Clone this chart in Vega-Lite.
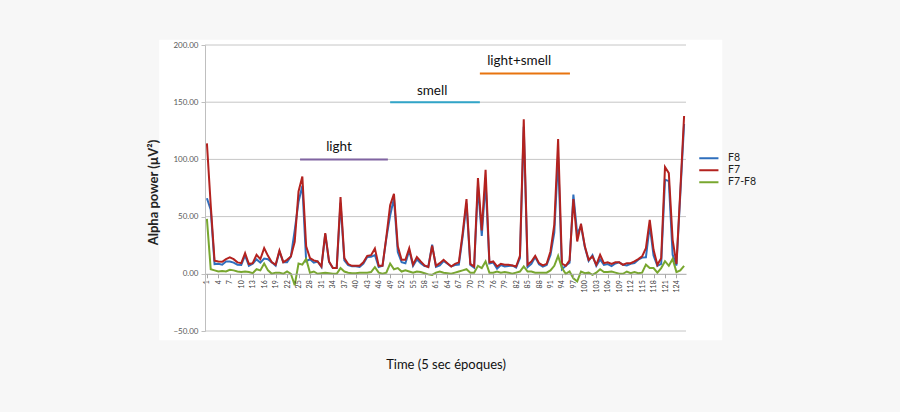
{
  "$schema": "https://vega.github.io/schema/vega-lite/v6.json",
  "width": 481,
  "height": 286,
  "autosize": {"type": "none"},
  "padding": {"left": 205, "top": 45, "right": 214, "bottom": 81},
  "background": "#f7f7f7",
  "config": {"font": "Lato", "view": {"stroke": null}},
  "datasets": {
    "eeg": [
      {"t":1,"F7":114,"F8":66,"F7-F8":48},
      {"t":2,"F7":60,"F8":56,"F7-F8":4},
      {"t":3,"F7":11.5,"F8":8.5,"F7-F8":3},
      {"t":4,"F7":10.8,"F8":8.8,"F7-F8":2},
      {"t":5,"F7":10.5,"F8":8,"F7-F8":2.5},
      {"t":6,"F7":12.8,"F8":10.8,"F7-F8":2},
      {"t":7,"F7":14.3,"F8":10.8,"F7-F8":3.5},
      {"t":8,"F7":12.8,"F8":9.8,"F7-F8":3},
      {"t":9,"F7":10,"F8":8,"F7-F8":2},
      {"t":10,"F7":9.3,"F8":7.8,"F7-F8":1.5},
      {"t":11,"F7":18,"F8":16,"F7-F8":2},
      {"t":12,"F7":8.5,"F8":7,"F7-F8":1.5},
      {"t":13,"F7":9.3,"F8":8.8,"F7-F8":0.5},
      {"t":14,"F7":16.6,"F8":12.6,"F7-F8":4},
      {"t":15,"F7":12.8,"F8":9.8,"F7-F8":3},
      {"t":16,"F7":22.4,"F8":13.4,"F7-F8":9},
      {"t":17,"F7":15.7,"F8":12.7,"F7-F8":3},
      {"t":18,"F7":10,"F8":10,"F7-F8":0},
      {"t":19,"F7":8,"F8":7,"F7-F8":1},
      {"t":20,"F7":20.4,"F8":19.4,"F7-F8":1},
      {"t":21,"F7":10.2,"F8":10.2,"F7-F8":0},
      {"t":22,"F7":12.2,"F8":10.2,"F7-F8":2},
      {"t":23,"F7":15.2,"F8":15.2,"F7-F8":0},
      {"t":24,"F7":28,"F8":38,"F7-F8":-10},
      {"t":25,"F7":72,"F8":63,"F7-F8":9},
      {"t":26,"F7":85,"F8":77,"F7-F8":8},
      {"t":27,"F7":24,"F8":11,"F7-F8":13},
      {"t":28,"F7":13.7,"F8":12.7,"F7-F8":1},
      {"t":29,"F7":11.7,"F8":9.7,"F7-F8":2},
      {"t":30,"F7":10.8,"F8":10.8,"F7-F8":0},
      {"t":31,"F7":6.4,"F8":5.9,"F7-F8":0.5},
      {"t":32,"F7":35.6,"F8":34.6,"F7-F8":1},
      {"t":33,"F7":10.8,"F8":10.3,"F7-F8":0.5},
      {"t":34,"F7":5,"F8":5,"F7-F8":0},
      {"t":35,"F7":5,"F8":5,"F7-F8":0},
      {"t":36,"F7":67,"F8":62,"F7-F8":5},
      {"t":37,"F7":13.7,"F8":11.7,"F7-F8":2},
      {"t":38,"F7":8.5,"F8":7.5,"F7-F8":1},
      {"t":39,"F7":7,"F8":6.5,"F7-F8":0.5},
      {"t":40,"F7":7,"F8":6.5,"F7-F8":0.5},
      {"t":41,"F7":7,"F8":6,"F7-F8":1},
      {"t":42,"F7":10,"F8":9,"F7-F8":1},
      {"t":43,"F7":15.7,"F8":14.7,"F7-F8":1},
      {"t":44,"F7":16.3,"F8":14.8,"F7-F8":1.5},
      {"t":45,"F7":22.2,"F8":16.4,"F7-F8":5.8},
      {"t":46,"F7":7,"F8":6,"F7-F8":1},
      {"t":47,"F7":7,"F8":7,"F7-F8":0},
      {"t":48,"F7":32,"F8":31,"F7-F8":1},
      {"t":49,"F7":60,"F8":51,"F7-F8":9},
      {"t":50,"F7":70,"F8":66,"F7-F8":4},
      {"t":51,"F7":24,"F8":19,"F7-F8":5},
      {"t":52,"F7":12.2,"F8":10.2,"F7-F8":2},
      {"t":53,"F7":12.2,"F8":9.2,"F7-F8":3},
      {"t":54,"F7":22.4,"F8":20.4,"F7-F8":2},
      {"t":55,"F7":8,"F8":7,"F7-F8":1},
      {"t":56,"F7":14.6,"F8":12.6,"F7-F8":2},
      {"t":57,"F7":10.8,"F8":9.3,"F7-F8":1.5},
      {"t":58,"F7":7.3,"F8":6.8,"F7-F8":0.5},
      {"t":59,"F7":5.8,"F8":6.3,"F7-F8":-0.5},
      {"t":60,"F7":24.5,"F8":25.5,"F7-F8":-1},
      {"t":61,"F7":7,"F8":6,"F7-F8":1},
      {"t":62,"F7":9.3,"F8":7.3,"F7-F8":2},
      {"t":63,"F7":12.2,"F8":11.2,"F7-F8":1},
      {"t":64,"F7":9.3,"F8":8.8,"F7-F8":0.5},
      {"t":65,"F7":6.4,"F8":6.4,"F7-F8":0},
      {"t":66,"F7":8.7,"F8":7.7,"F7-F8":1},
      {"t":67,"F7":10,"F8":8,"F7-F8":2},
      {"t":68,"F7":35.6,"F8":32.6,"F7-F8":3},
      {"t":69,"F7":65.3,"F8":61.3,"F7-F8":4},
      {"t":70,"F7":8.7,"F8":7.7,"F7-F8":1},
      {"t":71,"F7":6.4,"F8":5.4,"F7-F8":1},
      {"t":72,"F7":83.7,"F8":76.7,"F7-F8":7},
      {"t":73,"F7":38,"F8":33,"F7-F8":5},
      {"t":74,"F7":91,"F8":80.2,"F7-F8":10.8},
      {"t":75,"F7":10,"F8":9,"F7-F8":1},
      {"t":76,"F7":10.8,"F8":9.8,"F7-F8":1},
      {"t":77,"F7":6.4,"F8":4.4,"F7-F8":2},
      {"t":78,"F7":8.7,"F8":7.7,"F7-F8":1},
      {"t":79,"F7":7.9,"F8":6.4,"F7-F8":1.5},
      {"t":80,"F7":7.9,"F8":6.9,"F7-F8":1},
      {"t":81,"F7":7.3,"F8":7.3,"F7-F8":0},
      {"t":82,"F7":6.4,"F8":5.4,"F7-F8":1},
      {"t":83,"F7":15.7,"F8":13.7,"F7-F8":2},
      {"t":84,"F7":135,"F8":128.6,"F7-F8":6.4},
      {"t":85,"F7":7.9,"F8":5.9,"F7-F8":2},
      {"t":86,"F7":10.8,"F8":8.8,"F7-F8":2},
      {"t":87,"F7":15.7,"F8":14.7,"F7-F8":1},
      {"t":88,"F7":9.3,"F8":8.3,"F7-F8":1},
      {"t":89,"F7":7.3,"F8":6.3,"F7-F8":1},
      {"t":90,"F7":8.7,"F8":7.7,"F7-F8":1},
      {"t":91,"F7":19.5,"F8":16.5,"F7-F8":3},
      {"t":92,"F7":42.9,"F8":35.9,"F7-F8":7},
      {"t":93,"F7":117.8,"F8":102.1,"F7-F8":15.7},
      {"t":94,"F7":9,"F8":4,"F7-F8":5},
      {"t":95,"F7":7,"F8":7,"F7-F8":0},
      {"t":96,"F7":11.7,"F8":9.7,"F7-F8":2},
      {"t":97,"F7":65.3,"F8":69.3,"F7-F8":-4},
      {"t":98,"F7":28.3,"F8":35,"F7-F8":-6.7},
      {"t":99,"F7":43.7,"F8":41.7,"F7-F8":2},
      {"t":100,"F7":24,"F8":23.5,"F7-F8":0.5},
      {"t":101,"F7":12.2,"F8":11.2,"F7-F8":1},
      {"t":102,"F7":15.2,"F8":16.2,"F7-F8":-1},
      {"t":103,"F7":7.9,"F8":6.9,"F7-F8":1},
      {"t":104,"F7":16.6,"F8":12.6,"F7-F8":4},
      {"t":105,"F7":9.3,"F8":7.8,"F7-F8":1.5},
      {"t":106,"F7":10,"F8":8.5,"F7-F8":1.5},
      {"t":107,"F7":8.7,"F8":6.7,"F7-F8":2},
      {"t":108,"F7":10,"F8":9,"F7-F8":1},
      {"t":109,"F7":10,"F8":10,"F7-F8":0},
      {"t":110,"F7":7.9,"F8":7.9,"F7-F8":0},
      {"t":111,"F7":9.3,"F8":7.3,"F7-F8":2},
      {"t":112,"F7":9.3,"F8":8.8,"F7-F8":0.5},
      {"t":113,"F7":10.8,"F8":9.3,"F7-F8":1.5},
      {"t":114,"F7":12.8,"F8":12.3,"F7-F8":0.5},
      {"t":115,"F7":15.2,"F8":14.2,"F7-F8":1},
      {"t":116,"F7":22.4,"F8":14.4,"F7-F8":8},
      {"t":117,"F7":47.2,"F8":42.2,"F7-F8":5},
      {"t":118,"F7":21,"F8":16,"F7-F8":5},
      {"t":119,"F7":7.9,"F8":6.9,"F7-F8":1},
      {"t":120,"F7":13.7,"F8":8.7,"F7-F8":5},
      {"t":121,"F7":93.3,"F8":82.3,"F7-F8":11},
      {"t":122,"F7":88,"F8":81,"F7-F8":7},
      {"t":123,"F7":29.7,"F8":16.7,"F7-F8":13},
      {"t":124,"F7":8.7,"F8":7.2,"F7-F8":1.5},
      {"t":125,"F7":72,"F8":69,"F7-F8":3},
      {"t":126,"F7":138,"F8":131,"F7-F8":7}
    ],
    "ann": [
      {"label":"light","start":25.4,"end":48.4,"level":100,"mid":35.6,"texty":111},
      {"label":"smell","start":49,"end":72.5,"level":150,"mid":60,"texty":160},
      {"label":"light+smell","start":72.5,"end":96.1,"level":175,"mid":82.8,"texty":186}
    ],
    "grid": [{"g": -50}, {"g": 50}, {"g": 100}, {"g": 150}, {"g": 200}]
  },
  "resolve": {"scale": {"color": "independent"}},
  "layer": [
    {
      "data": {"values": [{}]},
      "mark": {"type": "rect", "color": "white", "clip": false},
      "encoding": {
        "x": {
          "datum": -11.5, "type": "quantitative", "scale": {"domain": [0.5, 126.5], "nice": false, "zero": false},
          "axis": {
            "orient": "bottom", "offset": -57.2, "grid": false, "zindex": 1, "labelOverlap": false, "tickCount": 60,
            "values": [1,4,7,10,13,16,19,22,25,28,31,34,37,40,43,46,49,52,55,58,61,64,67,70,73,76,79,82,85,88,91,94,97,100,103,106,109,112,115,118,121,124],
            "labelAngle": -90, "labelFontSize": 7, "labelColor": "#404040", "labelPadding": 2,
            "domainColor": "#a6a6a6", "tickColor": "#a6a6a6", "tickSize": 4,
            "title": "Time (5 sec époques)", "titleFontSize": 13, "titleFontWeight": "normal",
            "titleColor": "#111111", "titleY": 91, "titleBaseline": "middle"
          }
        },
        "x2": {"datum": 136},
        "y": {
          "datum": 204.5, "type": "quantitative", "scale": {"domain": [-50, 200], "nice": false},
          "axis": {
            "values": [-50, 0, 50, 100, 150, 200], "format": ".2f", "grid": false, "zindex": 1, "tickCount": 10,
            "labelFontSize": 8, "labelColor": "#595959", "labelPadding": 3,
            "tickColor": "#bfbfbf", "tickSize": 4, "domainColor": "#bfbfbf",
            "title": "Alpha power (µV²)", "titleFontSize": 13, "titleFontWeight": "bold",
            "titleColor": "#222222", "titleX": -52, "titleY": 147, "titleBaseline": "middle", "titleAlign": "center"
          }
        },
        "y2": {"datum": -58}
      }
    },
    {
      "data": {"name": "grid"},
      "mark": {"type": "rule", "color": "#c6c6c6", "strokeWidth": 1},
      "encoding": {
        "y": {"field": "g", "type": "quantitative"}
      }
    },
    {
      "data": {"name": "eeg"},
      "transform": [{"fold": ["F8", "F7", "F7-F8"], "as": ["series", "value"]}],
      "mark": {"type": "line", "strokeWidth": 2, "clip": false},
      "encoding": {
        "x": {"field": "t", "type": "quantitative"},
        "y": {"field": "value", "type": "quantitative"},
        "color": {
          "field": "series", "type": "nominal",
          "scale": {"domain": ["F8", "F7", "F7-F8"], "range": ["#2f6fbd", "#b3221f", "#78a72f"]},
          "legend": {
            "orient": "none", "legendX": 498.6, "legendY": 108, "title": null, "padding": 0, "zindex": 1,
            "symbolType": "M-2.4,0H2.4", "symbolSize": 64, "symbolStrokeWidth": 2,
            "labelFontSize": 10.5, "labelColor": "#222222", "labelOffset": 14, "rowPadding": 1
          }
        }
      }
    },
    {
      "data": {"name": "ann"},
      "mark": {"type": "rule", "strokeWidth": 2},
      "encoding": {
        "x": {"field": "start", "type": "quantitative"},
        "x2": {"field": "end"},
        "y": {"field": "level", "type": "quantitative"},
        "color": {
          "field": "label", "type": "nominal",
          "scale": {"domain": ["light", "smell", "light+smell"], "range": ["#8064a2", "#31a5c8", "#e8740f"]},
          "legend": null
        }
      }
    },
    {
      "data": {"name": "ann"},
      "mark": {"type": "text", "fontSize": 13.5, "color": "#111111"},
      "encoding": {
        "x": {"field": "mid", "type": "quantitative"},
        "y": {"field": "texty", "type": "quantitative"},
        "text": {"field": "label"}
      }
    }
  ]
}
